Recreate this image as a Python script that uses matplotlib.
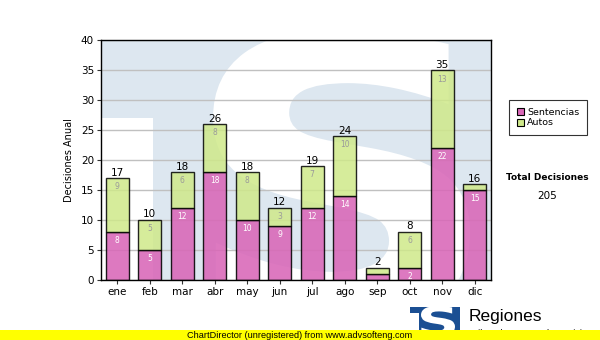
import matplotlib
matplotlib.use("Agg")
import matplotlib.pyplot as plt
from matplotlib.patches import Rectangle, PathPatch
from matplotlib.textpath import TextPath
from matplotlib.font_manager import FontProperties
from matplotlib.transforms import Affine2D

months = ["ene", "feb", "mar", "abr", "may", "jun", "jul", "ago", "sep", "oct", "nov", "dic"]
sentencias = [8, 5, 12, 18, 10, 9, 12, 14, 1, 2, 22, 15]
autos = [9, 5, 6, 8, 8, 3, 7, 10, 1, 6, 13, 1]
yticks = [0, 5, 10, 15, 20, 25, 30, 35, 40]

W, H = 600, 340
fig = plt.figure(figsize=(W / 100, H / 100), dpi=100)
fig.patch.set_facecolor("white")

L, R, T, B = 101, 491, 40.5, 280
ax = fig.add_axes([L / W, 1 - B / H, (R - L) / W, (B - T) / H])
ax.set_xlim(-0.5, len(months) - 0.5)
ax.set_ylim(0, 40)
ax.set_facecolor("#dde7f0")


def px_to_data(px, py):
    x = (px - L) / (R - L) * len(months) - 0.5
    y = (B - py) / (B - T) * 40
    return x, y


def s_patch(x0, y0, x1, y1, color, transform, zorder):
    tp = TextPath((0, 0), "S", size=100, prop=FontProperties(family="DejaVu Sans", weight="bold"))
    ext = tp.get_extents()
    sx = (x1 - x0) / ext.width
    sy = (y1 - y0) / ext.height
    tr = Affine2D().translate(-ext.x0, -ext.y0).scale(sx, sy).translate(x0, y0)
    return PathPatch(tr.transform_path(tp), facecolor=color, edgecolor="none",
                     transform=transform, zorder=zorder)


# Background watermark: white notch and big white S
nx0, ny0 = px_to_data(L, B)
nx1, ny1 = px_to_data(153, 118)
ax.add_patch(Rectangle((nx0, ny0), nx1 - nx0, ny1 - ny0, facecolor="white",
                       edgecolor="none", zorder=0.1))
sx0, sy0 = px_to_data(213, 325)
sx1, sy1 = px_to_data(470, 30)
ax.add_patch(s_patch(sx0, sy0, sx1, sy1, "white", ax.transData, 0.2))

ax.set_yticks(yticks)
ax.yaxis.grid(True, color="#c0c0c0", linewidth=1)
ax.set_axisbelow(True)
for gl in ax.get_ygridlines():
    gl.set_zorder(0.5)

x = list(range(len(months)))
bw = 0.72
pink = "#d967b8"
green = "#cfe98a"
ax.bar(x, sentencias, width=bw, color=pink, alpha=0.88, edgecolor="black",
       linewidth=1, zorder=2)
ax.bar(x, autos, width=bw, bottom=sentencias, color=green, alpha=0.85,
       edgecolor="black", linewidth=1, zorder=2)

for i in x:
    s, a = sentencias[i], autos[i]
    tot = s + a
    if s >= 2:
        ax.annotate(str(s), (i, s), xytext=(0, -3), textcoords="offset points",
                    ha="center", va="top", fontsize=5.5, color="white", zorder=3)
    if a >= 2:
        ax.annotate(str(a), (i, tot), xytext=(0, -3), textcoords="offset points",
                    ha="center", va="top", fontsize=5.5, color="#9a9a9a", zorder=3)
    ax.annotate(str(tot), (i, tot), xytext=(0, 0.5), textcoords="offset points",
                ha="center", va="bottom", fontsize=7.5, color="black", zorder=3)

ax.set_xticks(x)
ax.set_xticklabels(months, fontsize=7.5)
ax.set_yticklabels([str(v) for v in yticks], fontsize=7.5)
ax.tick_params(axis="both", direction="out", length=3, width=0.8, color="#333333", pad=2)
for sp in ax.spines.values():
    sp.set_color("black")
    sp.set_linewidth(1)
ax.set_ylabel("Decisiones Anual", fontsize=7, labelpad=5)

# Legend box
handles = [
    Rectangle((0, 0), 1, 1, facecolor=pink, edgecolor="black", linewidth=0.8),
    Rectangle((0, 0), 1, 1, facecolor=green, edgecolor="black", linewidth=0.8),
]
leg = fig.legend(handles=handles, labels=["Sentencias", "Autos"], loc="upper left",
                 bbox_to_anchor=(509 / W, 1 - 100 / H), fontsize=6.8, frameon=True,
                 fancybox=False, edgecolor="black", handlelength=0.75, handleheight=0.75,
                 handletextpad=0.35, borderpad=0.8, labelspacing=0.2, borderaxespad=0)
leg.get_frame().set_linewidth(0.8)

fig.text(547 / W, 1 - 178 / H, "Total Decisiones", ha="center", va="center",
         fontsize=6.5, fontweight="bold")
fig.text(547 / W, 1 - 196 / H, str(sum(sentencias) + sum(autos)), ha="center",
         va="center", fontsize=7.5)

# Footer logo
logo_blue = "#1b4f93"
fig.patches.append(Rectangle((410 / W, 1 - 330 / H), 50 / W, 23 / H, facecolor=logo_blue,
                             edgecolor="none", transform=fig.transFigure, zorder=1))
fig.patches.append(Rectangle((410 / W, 1 - 330 / H), 9 / W, 17 / H, facecolor="white",
                             edgecolor="none", transform=fig.transFigure, zorder=1.1))
fig.patches.append(s_patch(421 / W, 1 - 336 / H, 455 / W, 1 - 306 / H, "white",
                           fig.transFigure, 1.2))
fig.text(469 / W, 1 - 316 / H, "Regiones", ha="left", va="center", fontsize=12.5,
         family="Liberation Sans", zorder=1)
fig.text(470 / W, 1 - 334 / H, "Tribunal Supremo de Justicia", ha="left", va="center",
         fontsize=6.5, family="Liberation Sans", zorder=1)

# Yellow banner
fig.patches.append(Rectangle((0, 0), 1, 10 / H, facecolor="#ffff00", edgecolor="none",
                             transform=fig.transFigure, zorder=5))
fig.text(0.5, 5 / H, "ChartDirector (unregistered) from www.advsofteng.com",
         ha="center", va="center", fontsize=6.6, family="Liberation Sans", zorder=6)

fig.savefig("out.png", dpi=100)
